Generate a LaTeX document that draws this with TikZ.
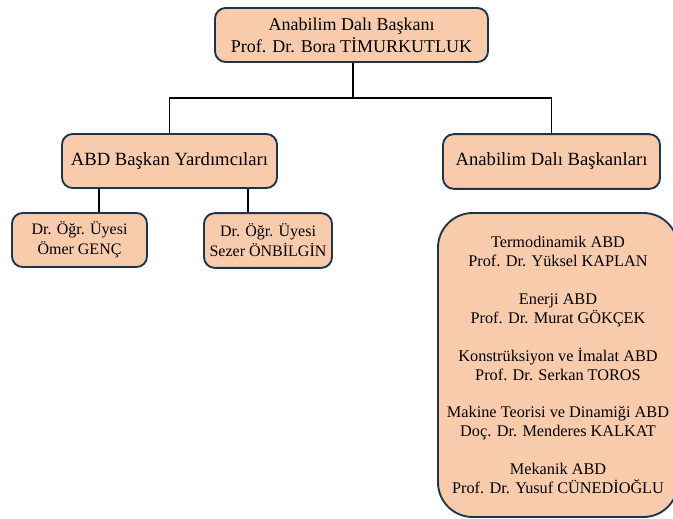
\documentclass[tikz,border=0pt]{standalone}
\usepackage{fontspec}
\setmainfont{LiberationSerif}[Extension=.ttf, UprightFont=*-Regular, BoldFont=*-Bold, ItalicFont=*-Italic, BoldItalicFont=*-BoldItalic]
\usepackage{xcolor}
\definecolor{boxfill}{RGB}{248,203,173}
\definecolor{boxline}{RGB}{31,52,72}

\begin{document}
\begin{tikzpicture}[x=0.75pt, y=-0.75pt, every node/.style={draw=boxline, fill=boxfill, line width=1.4pt, rounded corners=8pt, align=center, inner sep=0pt},%
        link/.style={line width=1.4pt, black}, big/.style={font=\rmfamily\fontsize{13.5}{16.5}\selectfont}, mid/.style={font=\rmfamily\fontsize{14}{16}\selectfont}, small/.style={font=\rmfamily\fontsize{12}{15}\selectfont}, list/.style={font=\rmfamily\fontsize{12.2}{14.2}\selectfont, rounded corners=26pt}]
    \useasboundingbox (0,0) rectangle (673,518);
    \clip (0,0) rectangle (673,518);
    \node[big, minimum width=204.75pt, minimum height=40.5pt] (head) at (351.5,35) {Anabilim Dalı Başkanı\\Prof. Dr. Bora TİMURKUTLUK};
    \node[mid, minimum width=161.25pt, minimum height=40.5pt] (deputies) at (169.5,161) {ABD Başkan Yardımcıları};
    \node[mid, minimum width=162.75pt, minimum height=41pt] (chairs) at (551.5,161.5) {Anabilim Dalı Başkanları};
    \node[small, minimum width=101.25pt, minimum height=40.5pt] (genc) at (79.5,240) {Dr. Öğr. Üyesi\\Ömer GENÇ};
    \node[small, minimum width=96pt, minimum height=41pt] (onbilgin) at (268,240.5) {Dr. Öğr. Üyesi\\Sezer ÖNBİLGİN};
    \node[list, minimum width=180pt, minimum height=228pt] (divisions) at (558,365) {Termodinamik ABD\\Prof. Dr. Yüksel KAPLAN\\[14.2pt]
        Enerji ABD\\Prof. Dr. Murat GÖKÇEK\\[14.2pt]
        Konstrüksiyon ve İmalat ABD\\Prof. Dr. Serkan TOROS\\[14.2pt]
        Makine Teorisi ve Dinamiği ABD\\Doç. Dr. Menderes KALKAT\\[14.2pt]
        Mekanik ABD\\Prof. Dr. Yusuf CÜNEDİOĞLU};
    % connectors
    \coordinate (split) at (353,98);
    \coordinate (leftdrop) at (99,0);
    \coordinate (rightdrop) at (248,0);
    \draw[link] (head.south -| split) -- (split) -| (deputies.north);
    \draw[link] (split) -| (chairs.north);
    \draw[link] (deputies.south -| leftdrop) -- (genc.north -| leftdrop);
    \draw[link] (deputies.south -| rightdrop) -- (onbilgin.north -| rightdrop);
\end{tikzpicture}
\end{document}
